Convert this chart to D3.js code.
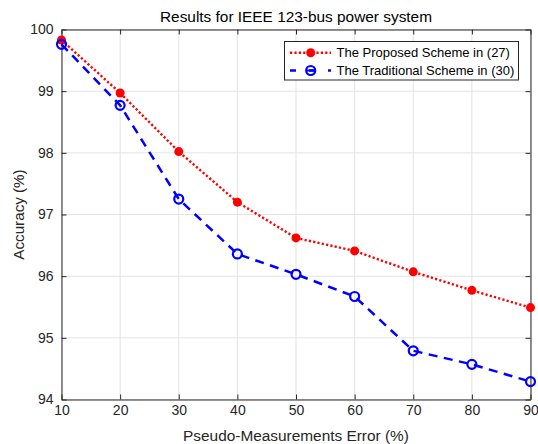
<!DOCTYPE html>
<html>
<head>
<meta charset="utf-8">
<script src="https://cdn.jsdelivr.net/npm/d3@7"></script>
<style>
  body { margin: 0; background: #fff; }
  svg { font-family: "Liberation Sans", Arial, sans-serif; }
</style>
</head>
<body>
<svg id="chart" width="538" height="444"></svg>
<script>
// Measurement error levels (%)
const errorLevels = [10, 20, 30, 40, 50, 60, 70, 80, 90];
// Accuracy (%) of each scheme
const proposedAccuracy = [99.83, 98.97, 98.02, 97.20, 96.62, 96.41, 96.07, 95.77, 95.49];
const traditionalAccuracy = [99.76, 98.77, 97.25, 96.36, 96.03, 95.67, 94.79, 94.57, 94.29];
// Tick values
const xTicks = [10, 20, 30, 40, 50, 60, 70, 80, 90];
const yTicks = [94, 95, 96, 97, 98, 99, 100];
const seriesNames = ["The Proposed Scheme in (27)", "The Traditional Scheme in (30)"];

const font = "'Liberation Sans', Arial, sans-serif";
const svg = d3.select("#chart");
const m = { left: 61.5, right: 530.5, top: 29.5, bottom: 399.5 };
const x = d3.scaleLinear().domain([10, 90]).range([m.left, m.right]);
const y = d3.scaleLinear().domain([94, 100]).range([m.bottom, m.top]);
const axisColor = "#262626";
const redDash = "2.2,2.2";
const blueDash = "9,6.5";

// grid
const grid = svg.append("g");
grid.selectAll("line.gx").data(xTicks).join("line")
  .attr("x1", d => x(d)).attr("x2", d => x(d))
  .attr("y1", m.top).attr("y2", m.bottom)
  .attr("stroke", "#e3e3e3").attr("stroke-width", 1);
grid.selectAll("line.gy").data(yTicks).join("line")
  .attr("y1", d => y(d)).attr("y2", d => y(d))
  .attr("x1", m.left).attr("x2", m.right)
  .attr("stroke", "#e3e3e3").attr("stroke-width", 1);

// axes with inward ticks
const tickLen = 5;
const fmt = d3.format("d");
const xAxis = d3.axisBottom(x).tickValues(xTicks).tickFormat(fmt).tickSizeInner(-tickLen).tickSizeOuter(0).tickPadding(5.5);
const yAxis = d3.axisLeft(y).tickValues(yTicks).tickFormat(fmt).tickSizeInner(-tickLen).tickSizeOuter(0).tickPadding(8);
const gx = svg.append("g").attr("transform", `translate(0,${m.bottom})`).call(xAxis);
const gy = svg.append("g").attr("transform", `translate(${m.left},0)`).call(yAxis);
const gxTop = svg.append("g").attr("transform", `translate(0,${m.top})`)
  .call(d3.axisTop(x).tickValues(xTicks).tickSizeInner(-tickLen).tickSizeOuter(0).tickFormat(""));
const gyRight = svg.append("g").attr("transform", `translate(${m.right},0)`)
  .call(d3.axisRight(y).tickValues(yTicks).tickSizeInner(-tickLen).tickSizeOuter(0).tickFormat(""));
[gx, gy, gxTop, gyRight].forEach(g => {
  g.select(".domain").attr("stroke", axisColor).attr("stroke-width", 1);
  g.selectAll(".tick line").attr("stroke", axisColor);
  g.selectAll(".tick text").attr("fill", axisColor).attr("font-size", 14)
    .attr("font-family", font);
});

// series
const line = d3.line().x(d => x(d[0])).y(d => y(d[1]));
const proposed = errorLevels.map((e, i) => [e, proposedAccuracy[i]]);
const traditional = errorLevels.map((e, i) => [e, traditionalAccuracy[i]]);

svg.append("path").datum(proposed).attr("d", line)
  .attr("fill", "none").attr("stroke", "#ff0000").attr("stroke-width", 2.4)
  .attr("stroke-dasharray", redDash);
svg.selectAll("circle.p").data(proposed).join("circle")
  .attr("cx", d => x(d[0])).attr("cy", d => y(d[1])).attr("r", 4.5)
  .attr("fill", "#ff0000");

svg.append("path").datum(traditional).attr("d", line)
  .attr("fill", "none").attr("stroke", "#0000ff").attr("stroke-width", 2.5)
  .attr("stroke-dasharray", blueDash);
svg.selectAll("circle.t").data(traditional).join("circle")
  .attr("cx", d => x(d[0])).attr("cy", d => y(d[1])).attr("r", 4.5)
  .attr("fill", "none").attr("stroke", "#0000ff").attr("stroke-width", 2.2);

// legend
const lg = svg.append("g").attr("font-family", font);
lg.append("rect").attr("x", 284.5).attr("y", 41.5).attr("width", 234).attr("height", 38.5)
  .attr("fill", "#fff").attr("stroke", axisColor).attr("stroke-width", 1);
const rows = [
  { name: seriesNames[0], color: "#ff0000", dash: redDash, filled: true, yy: 52.7 },
  { name: seriesNames[1], color: "#0000ff", dash: "6,13", filled: false, yy: 70.5 }
];
rows.forEach(r => {
  lg.append("line").attr("x1", 290).attr("x2", 331).attr("y1", r.yy).attr("y2", r.yy)
    .attr("stroke", r.color).attr("stroke-width", 2.5).attr("stroke-dasharray", r.dash);
  lg.append("circle").attr("cx", 310.7).attr("cy", r.yy).attr("r", 4.5)
    .attr("fill", r.filled ? r.color : "none").attr("stroke", r.filled ? "none" : r.color)
    .attr("stroke-width", 2.2);
  if (!r.filled) {
    lg.append("line").attr("x1", 307).attr("x2", 314.5).attr("y1", r.yy).attr("y2", r.yy)
      .attr("stroke", r.color).attr("stroke-width", 2);
  }
  lg.append("text").attr("x", 336.5).attr("y", r.yy).attr("dy", "0.35em")
    .attr("font-size", 13).attr("fill", "#000").text(r.name);
});

// titles
svg.append("text").attr("x", (m.left + m.right) / 2).attr("y", 21.5)
  .attr("text-anchor", "middle").attr("font-size", 15.4).attr("fill", "#000")
  .attr("font-family", font)
  .text("Results for IEEE 123-bus power system");
svg.append("text").attr("x", (m.left + m.right) / 2).attr("y", 440.5)
  .attr("text-anchor", "middle").attr("font-size", 15.4).attr("fill", axisColor)
  .attr("font-family", font)
  .text("Pseudo-Measurements Error (%)");
svg.append("text").attr("transform", `translate(23.5,${(m.top + m.bottom) / 2}) rotate(-90)`)
  .attr("text-anchor", "middle").attr("font-size", 15.2).attr("fill", axisColor)
  .attr("font-family", font)
  .text("Accuracy (%)");
</script>
</body>
</html>
